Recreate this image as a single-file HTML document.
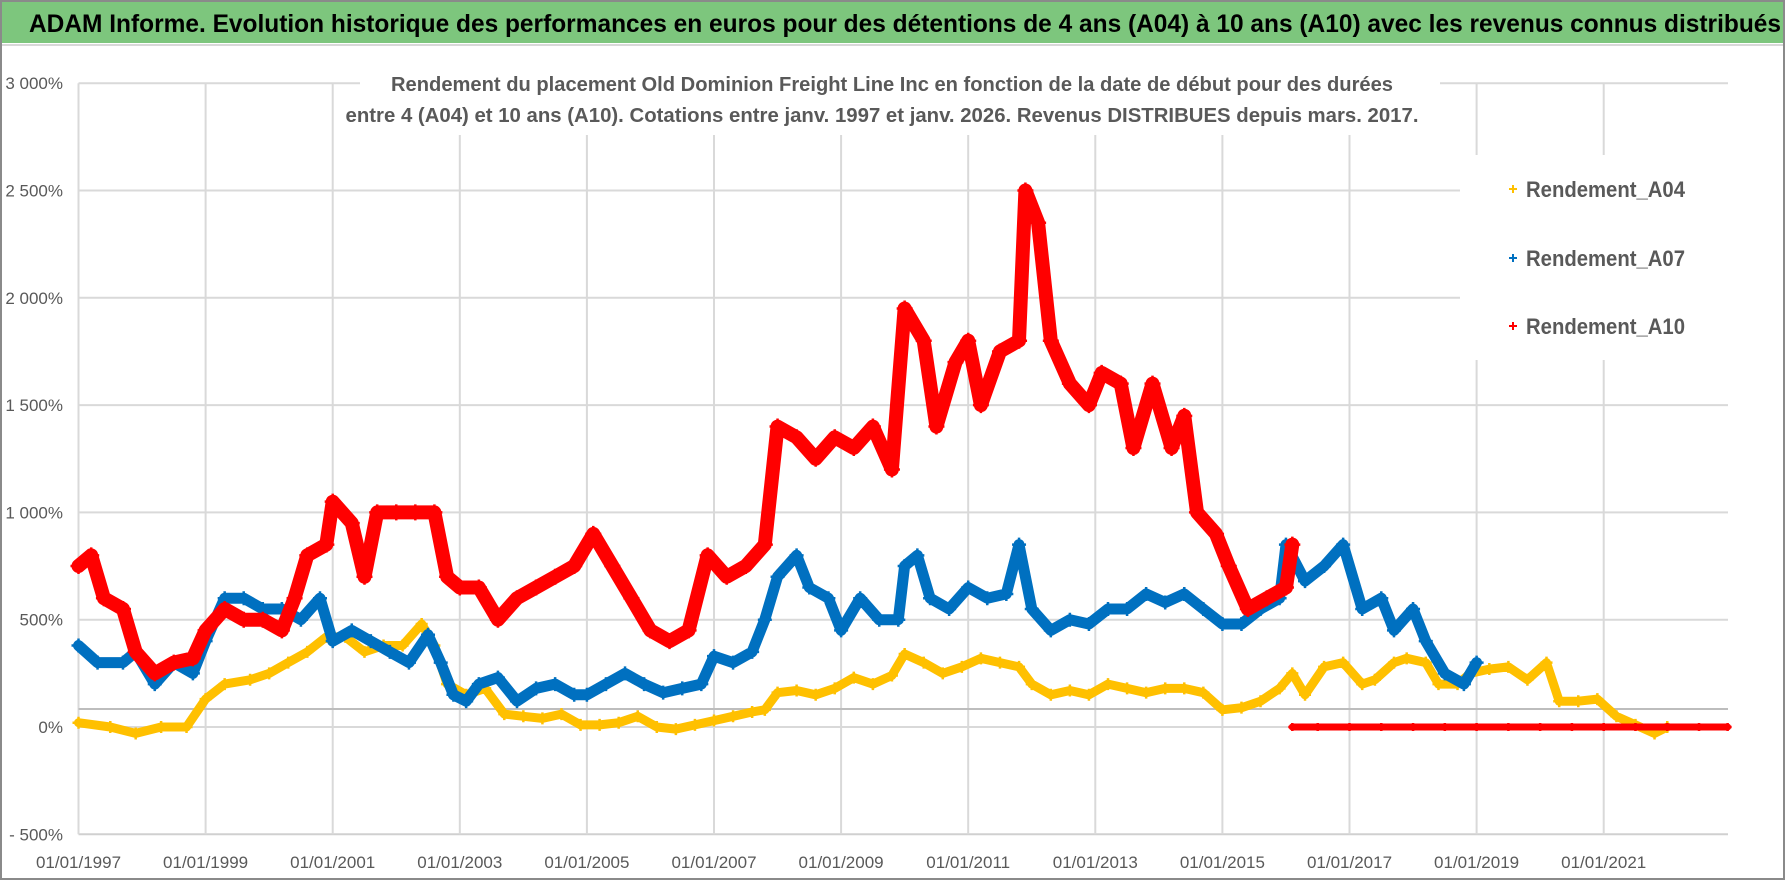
<!DOCTYPE html>
<html><head><meta charset="utf-8"><style>
html,body{margin:0;padding:0;background:#fff;}
svg{display:block;font-family:"Liberation Sans",sans-serif;}
</style></head><body>
<svg id="chart" width="1790" height="886" viewBox="0 0 1790 886" xmlns="http://www.w3.org/2000/svg">
<rect x="0" y="0" width="1790" height="886" fill="#fff"/>
<rect x="1" y="1" width="1783" height="878" fill="none" stroke="#8a8a8a" stroke-width="2"/>
<rect x="2" y="2" width="1781" height="41" fill="#7dc67d"/>
<line x1="2" y1="45" x2="1783" y2="45" stroke="#d8d8d8" stroke-width="2"/>
<text x="29" y="32" font-size="25" font-weight="bold" fill="#000" textLength="1752" lengthAdjust="spacingAndGlyphs">ADAM Informe. Evolution historique des performances en euros pour des détentions de 4 ans (A04) à 10 ans (A10) avec les revenus connus distribués</text>
<g id="grid"></g>
<g id="refline"></g>
<g id="series"></g>
<rect x="360" y="58" width="1080" height="77" fill="#fff"/>
<text x="892" y="91" font-size="20" font-weight="bold" fill="#595959" text-anchor="middle" textLength="1002" lengthAdjust="spacingAndGlyphs">Rendement du placement Old Dominion Freight Line Inc en fonction de la date de début pour des durées</text>
<text x="882" y="122" font-size="20" font-weight="bold" fill="#595959" text-anchor="middle" textLength="1073" lengthAdjust="spacingAndGlyphs">entre 4 (A04) et 10 ans (A10). Cotations entre janv. 1997 et janv. 2026. Revenus DISTRIBUES depuis mars. 2017.</text>
<g id="legend">
<rect x="1460" y="155" width="270" height="205" fill="#fff"/>
</g>
<g id="axes"></g>
</svg>
<script>
const NS='http://www.w3.org/2000/svg';
const yTicks=[3000,2500,2000,1500,1000,500,0,-500];
const yTickLabels=['3 000%','2 500%','2 000%','1 500%','1 000%','500%','0%','- 500%'];
const xTicks=[1997,1999,2001,2003,2005,2007,2009,2011,2013,2015,2017,2019,2021];
const xTickLabels=['01/01/1997','01/01/1999','01/01/2001','01/01/2003','01/01/2005','01/01/2007','01/01/2009','01/01/2011','01/01/2013','01/01/2015','01/01/2017','01/01/2019','01/01/2021'];
const refLineValue=84;
const a04Years=[1997.0,1997.5,1997.9,1998.3,1998.7,1999.0,1999.3,1999.7,2000.0,2000.3,2000.6,2000.9,2001.2,2001.5,2001.8,2002.1,2002.4,2002.6,2002.8,2003.1,2003.4,2003.7,2004.0,2004.3,2004.6,2004.9,2005.2,2005.5,2005.8,2006.1,2006.4,2006.7,2007.0,2007.3,2007.6,2007.8,2008.0,2008.3,2008.6,2008.9,2009.2,2009.5,2009.8,2010.0,2010.3,2010.6,2010.9,2011.2,2011.5,2011.8,2012.0,2012.3,2012.6,2012.9,2013.2,2013.5,2013.8,2014.1,2014.4,2014.7,2015.0,2015.3,2015.6,2015.9,2016.1,2016.3,2016.6,2016.9,2017.2,2017.4,2017.7,2017.9,2018.2,2018.4,2018.7,2018.9,2019.2,2019.5,2019.8,2020.1,2020.3,2020.6,2020.9,2021.2,2021.5,2021.8,2022.0];
const a04Values=[20,0,-30,0,0,130,200,220,250,300,350,420,420,350,380,380,480,380,200,150,180,60,50,40,60,10,10,20,50,0,-10,10,30,50,70,80,160,170,150,180,230,200,240,340,300,250,280,320,300,280,200,150,170,150,200,180,160,180,180,160,80,90,120,180,250,150,280,300,200,220,300,320,300,200,200,250,270,280,220,300,120,120,130,50,10,-30,0];
const a07Years=[1997.0,1997.3,1997.7,1997.9,1998.2,1998.5,1998.8,1999.0,1999.3,1999.6,1999.9,2000.2,2000.5,2000.8,2001.0,2001.3,2001.6,2001.9,2002.2,2002.5,2002.7,2002.9,2003.1,2003.3,2003.6,2003.9,2004.2,2004.5,2004.8,2005.0,2005.3,2005.6,2005.9,2006.2,2006.5,2006.8,2007.0,2007.3,2007.6,2007.8,2008.0,2008.3,2008.5,2008.8,2009.0,2009.3,2009.6,2009.9,2010.0,2010.2,2010.4,2010.7,2011.0,2011.3,2011.6,2011.8,2012.0,2012.3,2012.6,2012.9,2013.2,2013.5,2013.8,2014.1,2014.4,2014.7,2015.0,2015.3,2015.6,2015.9,2016.0,2016.3,2016.6,2016.9,2017.2,2017.5,2017.7,2018.0,2018.2,2018.5,2018.8,2019.0];
const a07Values=[380,300,300,350,200,300,250,400,600,600,550,550,500,600,400,450,400,350,300,430,300,150,120,200,230,120,180,200,150,150,200,250,200,160,180,200,330,300,350,500,700,800,650,600,450,600,500,500,750,800,600,550,650,600,620,850,550,450,500,480,550,550,620,580,620,550,480,480,550,600,850,680,750,850,550,600,450,550,400,250,200,300];
const a10Years=[1997.0,1997.2,1997.4,1997.7,1997.9,1998.2,1998.5,1998.8,1999.0,1999.3,1999.6,1999.9,2000.2,2000.4,2000.6,2000.9,2001.0,2001.3,2001.5,2001.7,2002.0,2002.3,2002.6,2002.8,2003.0,2003.3,2003.6,2003.9,2004.2,2004.5,2004.8,2005.1,2005.4,2005.7,2006.0,2006.3,2006.6,2006.9,2007.2,2007.5,2007.8,2008.0,2008.3,2008.6,2008.9,2009.2,2009.5,2009.8,2010.0,2010.3,2010.5,2010.8,2011.0,2011.2,2011.5,2011.8,2011.9,2012.1,2012.3,2012.6,2012.9,2013.1,2013.4,2013.6,2013.9,2014.2,2014.4,2014.6,2014.9,2015.1,2015.4,2015.7,2016.0,2016.1];
const a10Values=[750,800,600,550,350,250,300,320,450,550,500,500,450,600,800,850,1050,950,700,1000,1000,1000,1000,700,650,650,500,600,650,700,750,900,750,600,450,400,450,800,700,750,850,1400,1350,1250,1350,1300,1400,1200,1950,1800,1400,1700,1800,1500,1750,1800,2500,2350,1800,1600,1500,1650,1600,1300,1600,1300,1450,1000,900,750,550,600,650,850];
const a10ZeroYears=[2016.1,2016.5,2017.0,2017.5,2018.0,2018.5,2019.0,2019.5,2020.0,2020.5,2021.0,2021.5,2022.0,2022.5,2022.95];
const a10ZeroValues=[0,0,0,0,0,0,0,0,0,0,0,0,0,0,0];

const X0=78.5, PXY=63.55, Y0=727, PXV=0.2146;
function xs(yr){return X0+(yr-1997)*PXY;}
function ys(v){return Y0-v*PXV;}
const PL=78.5, PR=1728, PT=ys(3000), PB=ys(-500);

function mk(tag,attrs,parent){const e=document.createElementNS(NS,tag);for(const k in attrs)e.setAttribute(k,attrs[k]);parent.appendChild(e);return e;}
const grid=document.getElementById('grid');
yTicks.forEach((t,i)=>{
  const l=mk('line',{x1:PL,x2:PR,y1:ys(t),y2:ys(t),stroke:i===yTicks.length-1?'#d0d0d0':'#d9d9d9','stroke-width':2},grid);
  
  
});
xTicks.forEach(t=>{
  const l=mk('line',{x1:xs(t),x2:xs(t),y1:PT,y2:PB,stroke:'#d9d9d9','stroke-width':2},grid);
  
  
});
const ref=document.getElementById('refline');
const rl=mk('line',{x1:PL,x2:PR,y1:ys(refLineValue),y2:ys(refLineValue),stroke:'#bdbdbd','stroke-width':2},ref);



const axes=document.getElementById('axes');
yTicks.forEach((t,i)=>{
  const tx=mk('text',{x:63,y:ys(t)+6,'font-size':17,fill:'#595959','text-anchor':'end'},axes);
  tx.textContent=yTickLabels[i];
  
  
});
xTicks.forEach((t,i)=>{
  const tx=mk('text',{x:xs(t),y:868,'font-size':17,fill:'#595959','text-anchor':'middle'},axes);
  tx.textContent=xTickLabels[i];
  
  
});

const ser=document.getElementById('series');
function drawSeries(name,years,vals,color,bandW,msize){
  const g=mk('g',{},ser);
  
  
  const pts=years.map((y,i)=>xs(y).toFixed(1)+','+ys(vals[i]).toFixed(1)).join(' ');
  const pl=mk('polyline',{points:pts,fill:'none',stroke:color,'stroke-width':bandW,'stroke-linejoin':'round','stroke-linecap':'round'},g);
  
  
  years.forEach((y,i)=>{
    const cx=xs(y), cy=ys(vals[i]), h=msize;
    const p=mk('path',{d:`M${cx-h} ${cy}H${cx+h}M${cx} ${cy-h}V${cy+h}`,stroke:color,'stroke-width':2.5},g);
    
    
  });
}
drawSeries('series-a04',a04Years,a04Values,'#ffc000',9,6);
drawSeries('series-a07',a07Years,a07Values,'#0070c0',11,7);
drawSeries('series-a10',a10Years,a10Values,'#ff0000',14,8);
drawSeries('series-a10-zero',a10ZeroYears,a10ZeroValues,'#ff0000',7,4);

const leg=document.getElementById('legend');
const legItems=[['Rendement_A04','#ffc000',197],['Rendement_A07','#0070c0',266],['Rendement_A10','#ff0000',334]];
legItems.forEach(it=>{
  const g=mk('g',{},leg);
  
  
  mk('path',{d:`M${1509} ${it[2]-8}H${1517}M${1513} ${it[2]-12}V${it[2]-4}`,stroke:it[1],'stroke-width':2},g);
  const t=mk('text',{x:1526,y:it[2],'font-size':22,'font-weight':'bold',fill:'#595959',textLength:159,lengthAdjust:'spacingAndGlyphs'},g);
  t.textContent=it[0];
});
</script>
</body></html>
